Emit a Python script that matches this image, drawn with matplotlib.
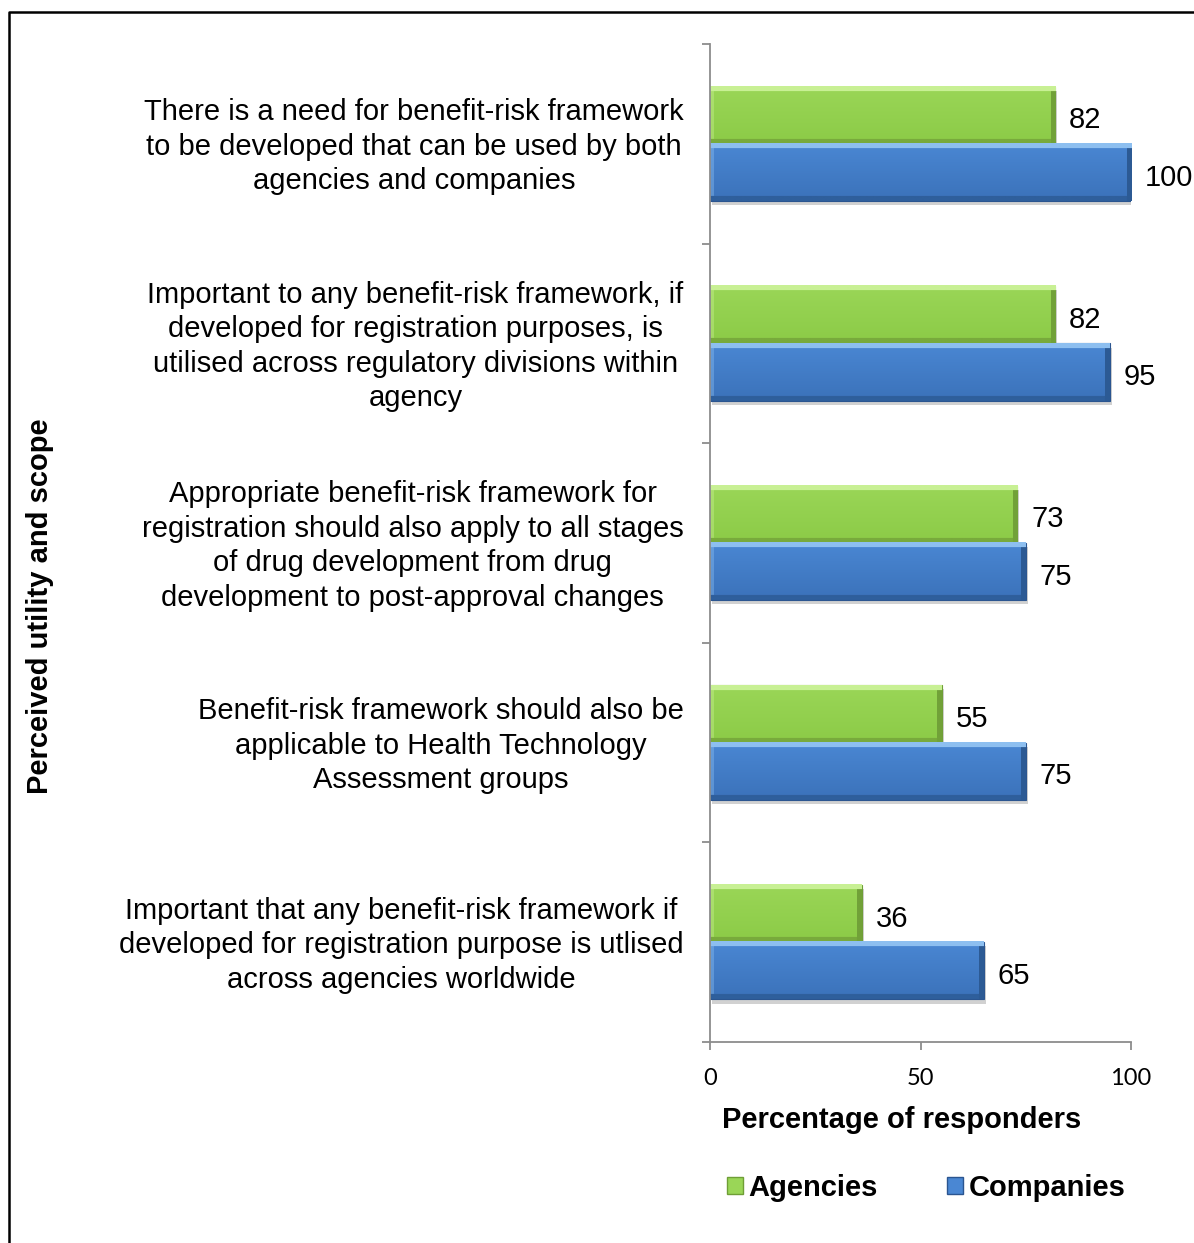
import numpy as np
import matplotlib
matplotlib.use("Agg")
import matplotlib.pyplot as plt
from matplotlib.lines import Line2D
from matplotlib.patches import Patch
from matplotlib.transforms import ScaledTranslation
import matplotlib.patheffects as pe

plt.rcParams['font.family'] = ['Liberation Sans', 'DejaVu Sans']

statements = [
    "There is a need for benefit-risk framework\nto be developed that can be used by both\nagencies and companies",
    "Important to any benefit-risk framework, if\ndeveloped for registration purposes, is\nutilised across regulatory divisions within\nagency",
    "Appropriate benefit-risk framework for\nregistration should also apply to all stages\nof drug development from drug\ndevelopment to post-approval changes",
    "Benefit-risk framework should also be\napplicable to Health Technology\nAssessment groups",
    "Important that any benefit-risk framework if\ndeveloped for registration purpose is utlised\nacross agencies worldwide",
]
agencies = [82, 82, 73, 55, 36]
companies = [100, 95, 75, 75, 65]
x_ticks = [0, 50, 100]

FS = 21

W, H = 1194, 1243
fig = plt.figure(figsize=(W / 100, H / 100), dpi=100)
ax = fig.add_axes([710 / W, 1 - 1042 / H, (1131 - 710) / W, (1042 - 44) / H])

n = len(statements)
pos = np.arange(n)
bh = 0.287

green_pal = dict(face='#9ad657', light='#c8f094', low='#8ccb47', dark='#78aa3c', edge='#6f9e36')
blue_pal = dict(face='#4a87d3', light='#8dbff0', low='#3b72ba', dark='#2f5f9c', edge='#2b5590')

shadow = [pe.SimplePatchShadow(offset=(1.5, -3), shadow_rgbFace='#9a9a9a', alpha=0.45), pe.Normal()]
bars_a = ax.barh(pos - bh / 2, agencies, height=bh, color=green_pal['face'],
                 edgecolor=green_pal['edge'], linewidth=0.8, zorder=2, path_effects=shadow)
bars_c = ax.barh(pos + bh / 2, companies, height=bh, color=blue_pal['face'],
                 edgecolor=blue_pal['edge'], linewidth=0.8, zorder=2, path_effects=shadow)

ax.set_xlim(0, 100)
ax.set_ylim(n - 0.5, -0.5)


def rgb(h):
    return np.array(matplotlib.colors.to_rgb(h))


def bevel_fill(bars, pal):
    """Paint a bevelled gradient inside each bar, clipped to the bar patch."""
    fig.canvas.draw()
    for b in bars:
        x, y, w, h = b.get_x(), b.get_y(), b.get_width(), b.get_height()
        p0 = ax.transData.transform((x, y))
        p1 = ax.transData.transform((x + w, y + h))
        wpx = max(int(round(abs(p1[0] - p0[0]))), 2)
        hpx = max(int(round(abs(p1[1] - p0[1]))), 2)
        t = np.linspace(0, 1, hpx)[:, None, None]
        img = rgb(pal['face'])[None, None, :] * (1 - t) + rgb(pal['low'])[None, None, :] * t
        img = np.repeat(img, wpx, axis=1)
        rows = np.broadcast_to(np.arange(hpx)[:, None], (hpx, wpx))
        cols = np.broadcast_to(np.arange(wpx)[None, :], (hpx, wpx))
        bev = 5
        top = rows < bev
        bottom = rows >= hpx - bev
        right = cols >= wpx - bev
        left = cols < 4
        img[left & ~top & ~bottom] = img[left & ~top & ~bottom] * 0.6 + rgb(pal['light']) * 0.4
        img[top] = rgb(pal['light'])
        img[bottom] = rgb(pal['dark'])
        img[right & ~top] = rgb(pal['dark']) * 0.95
        ax.imshow(img, extent=(x, x + w, y + h, y), origin='upper', aspect='auto',
                  interpolation='bilinear', zorder=2.5, clip_path=b, clip_on=True)
    ax.set_xlim(0, 100)
    ax.set_ylim(n - 0.5, -0.5)


bevel_fill(bars_a, green_pal)
bevel_fill(bars_c, blue_pal)

for b, v in zip(list(bars_a) + list(bars_c), agencies + companies):
    ax.annotate(f"{v}", xy=(v, b.get_y() + b.get_height() / 2), xytext=(10, -1.5),
                textcoords='offset points', ha='left', va='center_baseline', fontsize=FS,
                annotation_clip=False, clip_on=False)

# axes styling
for s in ['top', 'right']:
    ax.spines[s].set_visible(False)
for s in ['left', 'bottom']:
    ax.spines[s].set_color('#8c8c8c')
    ax.spines[s].set_linewidth(1.3)

ax.set_yticks(pos)
ax.set_yticklabels(statements, fontsize=FS, linespacing=1.29)
ax.set_yticks(np.arange(-0.5, n, 1.0), minor=True)
ax.tick_params(axis='y', which='major', length=0, pad=19)
ax.tick_params(axis='y', which='minor', length=6, color='#8c8c8c', width=1.3, direction='out')
label_shift = ScaledTranslation(0, -3 / 100, fig.dpi_scale_trans)
for lab in ax.get_yticklabels():
    lab.set_multialignment('center')
    lab.set_verticalalignment('center')
    lab.set_transform(lab.get_transform() + label_shift)

ax.set_xticks(x_ticks)
ax.set_xticklabels([str(t) for t in x_ticks], family=['Lato', 'DejaVu Sans'], fontsize=17)
ax.tick_params(axis='x', length=6, color='#8c8c8c', width=1.3, direction='out', pad=13)

fig.text(902 / W, 1 - 1120 / H, "Percentage of responders", ha='center', va='center',
         fontsize=FS, fontweight='bold')
fig.text(40 / W, 1 - 606 / H, "Perceived utility and scope", ha='center', va='center',
         rotation=90, fontsize=FS, fontweight='bold')

handles = [Patch(facecolor=green_pal['face'], edgecolor=green_pal['edge'], label='Agencies'),
           Patch(facecolor=blue_pal['face'], edgecolor=blue_pal['edge'], label='Companies')]
leg = fig.legend(handles=handles, loc='center', bbox_to_anchor=(926 / W, 1 - 1188 / H),
                 ncol=2, frameon=False, handlelength=0.55, handleheight=0.55,
                 handletextpad=0.2, columnspacing=2.35, prop=dict(size=FS, weight='bold'))

# outer frame
fig.add_artist(Line2D([9 / W, 9 / W, 1193 / W], [0, 1 - 12 / H, 1 - 12 / H],
                      transform=fig.transFigure, color='black', linewidth=1.8))

fig.savefig("out.png", dpi=100)
